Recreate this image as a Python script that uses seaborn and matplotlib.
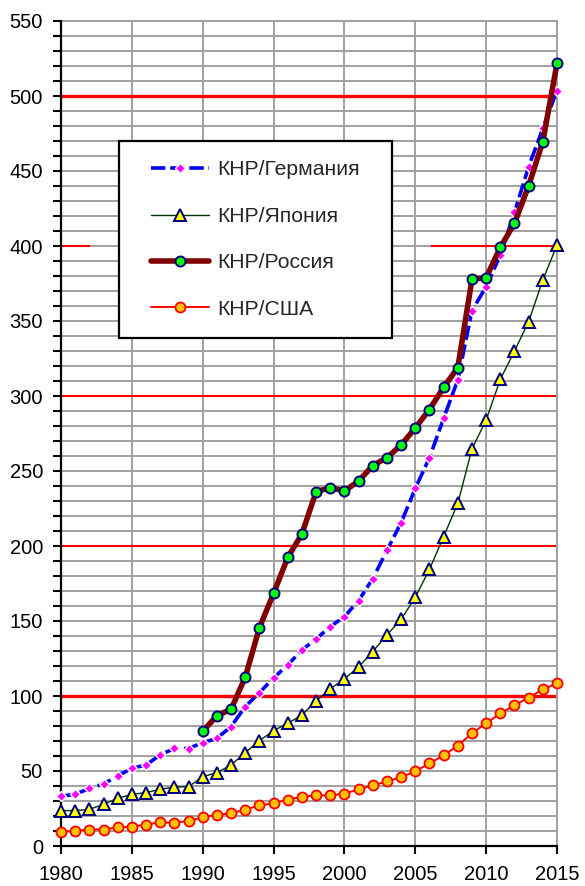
import matplotlib
matplotlib.use("Agg")
import matplotlib.pyplot as plt
import matplotlib.ticker as mticker
from matplotlib.patches import Rectangle
import seaborn as sns
import pandas as pd

# ---------------- data ----------------
years = list(range(1980, 2016))
years_russia = list(range(1990, 2016))

germany = [33.3, 34.4, 38.4, 41.3, 46.7, 51.8, 54.0, 60.7, 65.1, 65.0,
           68.9, 71.8, 79.6, 92.9, 102.2, 112.0, 120.7, 130.7, 138.0, 146.2,
           152.9, 163.6, 178.2, 197.1, 215.5, 238.4, 258.8, 285.1, 310.7, 356.9,
           372.9, 394.0, 422.5, 452.9, 478.4, 503.6]
japan = [23.6, 23.6, 24.4, 27.8, 31.8, 34.4, 35.6, 37.8, 39.3, 39.5,
         46.2, 48.9, 54.0, 62.2, 70.2, 76.9, 81.8, 87.3, 96.7, 104.7,
         111.5, 119.3, 129.6, 140.7, 151.1, 165.8, 184.4, 206.2, 228.4, 264.7,
         284.0, 311.1, 330.0, 349.6, 377.3, 400.7]
russia = [76.4, 86.9, 91.1, 112.5, 145.5, 168.4, 192.4, 208.0, 236.2, 238.9,
          236.7, 243.3, 253.6, 258.9, 267.3, 278.7, 291.0, 305.8, 318.9, 377.8,
          378.9, 399.1, 415.1, 440.2, 469.6, 521.8]
usa = [9.5, 10.0, 11.0, 11.0, 12.4, 12.9, 14.2, 15.8, 15.5, 16.7,
       19.1, 20.7, 21.8, 24.2, 27.1, 28.4, 31.0, 32.7, 33.8, 33.8,
       34.9, 37.8, 40.4, 43.1, 45.8, 49.8, 55.1, 60.4, 66.9, 75.1,
       81.8, 88.4, 93.8, 98.9, 104.4, 108.4]

labels = ["КНР/Германия", "КНР/Япония", "КНР/Россия", "КНР/США"]
x_ticks = [1980, 1985, 1990, 1995, 2000, 2005, 2010, 2015]
y_ticks = list(range(0, 551, 50))

# reference (red) lines: level, x-range segments
red_levels_thick = [100, 500]
red_levels_thin = [200, 300]
red_400_segments = [(1980, 1982.05), (2006.1, 2015)]

# ---------------- style ----------------
sns.set_style("ticks")
plt.rcParams["font.family"] = ["Liberation Sans", "DejaVu Sans"]

fig = plt.figure(figsize=(5.85, 8.86), dpi=100)
ax = fig.add_axes([61 / 585, 40 / 886, 496 / 585, 825 / 886])

grid_color = "#a0a0a0"

df_g = pd.DataFrame({"year": years, "v": germany})
df_j = pd.DataFrame({"year": years, "v": japan})
df_r = pd.DataFrame({"year": years_russia, "v": russia})
df_u = pd.DataFrame({"year": years, "v": usa})

sns.lineplot(data=df_g, x="year", y="v", ax=ax, color="#0000ff", lw=2.6,
             linestyle=(0, (4.0, 1.3)), marker="D", markersize=5.5,
             markerfacecolor="#ff00ff", markeredgecolor="white",
             markeredgewidth=1.0, label=labels[0], clip_on=False, zorder=4)
sns.lineplot(data=df_j, x="year", y="v", ax=ax, color="#003300", lw=1.0,
             marker="^", markersize=9, markerfacecolor="#ffff00",
             markeredgecolor="#000080", markeredgewidth=1.4,
             label=labels[1], clip_on=False, zorder=4)
sns.lineplot(data=df_r, x="year", y="v", ax=ax, color="#800000", lw=4.0,
             marker="o", markersize=7.2, markerfacecolor="#00ff00",
             markeredgecolor="#000080", markeredgewidth=1.4,
             label=labels[2], clip_on=False, zorder=4)
sns.lineplot(data=df_u, x="year", y="v", ax=ax, color="#ff0000", lw=1.4,
             marker="o", markersize=7.2, markerfacecolor="#ffc000",
             markeredgecolor="#ff0000", markeredgewidth=1.3,
             label=labels[3], clip_on=False, zorder=4)

# red horizontal reference lines
for lvl in red_levels_thick:
    ax.axhline(lvl, color="#ff0000", lw=2.4, zorder=2)
for lvl in red_levels_thin:
    ax.axhline(lvl, color="#ff0000", lw=1.5, zorder=2)
for x0, x1 in red_400_segments:
    ax.hlines(400, x0, x1, color="#ff0000", lw=1.5, zorder=2)

ax.set_xlim(1980, 2015)
ax.set_ylim(0, 550)
ax.set_xticks(x_ticks)
ax.set_xticklabels([str(t) for t in x_ticks])
ax.set_yticks(y_ticks)
ax.set_yticklabels([str(t) for t in y_ticks])
ax.yaxis.set_minor_locator(mticker.MultipleLocator(10))
ax.set_xlabel("")
ax.set_ylabel("")

ax.grid(which="major", axis="x", color=grid_color, lw=1.4, zorder=0)
ax.grid(which="both", axis="y", color=grid_color, lw=1.4, zorder=0)
ax.set_axisbelow(True)

ax.tick_params(axis="x", which="major", length=6, width=1.5, pad=8,
               labelsize=14.5, colors="black", direction="out")
ax.tick_params(axis="y", which="both", length=6, width=1.5, pad=7,
               labelsize=14.5, colors="black", direction="out")
ax.tick_params(axis="y", which="minor", length=6, width=1.5)

for s in ["left", "bottom"]:
    ax.spines[s].set_color("black")
    ax.spines[s].set_linewidth(1.6)
    ax.spines[s].set_zorder(3)
for s in ["top", "right"]:
    ax.spines[s].set_color(grid_color)
    ax.spines[s].set_linewidth(1.4)

# legend box
rect = Rectangle((0.117, 0.6158), 0.55, 0.2387, transform=ax.transAxes,
                 facecolor="white", edgecolor="black", lw=1.6, zorder=8)
ax.add_patch(rect)
leg = ax.legend(loc="center", bbox_to_anchor=(0.392, 0.735), frameon=False,
                fontsize=15.2, handlelength=2.75, handletextpad=0.35,
                labelspacing=1.3, numpoints=1, borderpad=0)
leg.set_zorder(9)

fig.savefig("out.png", dpi=100)
